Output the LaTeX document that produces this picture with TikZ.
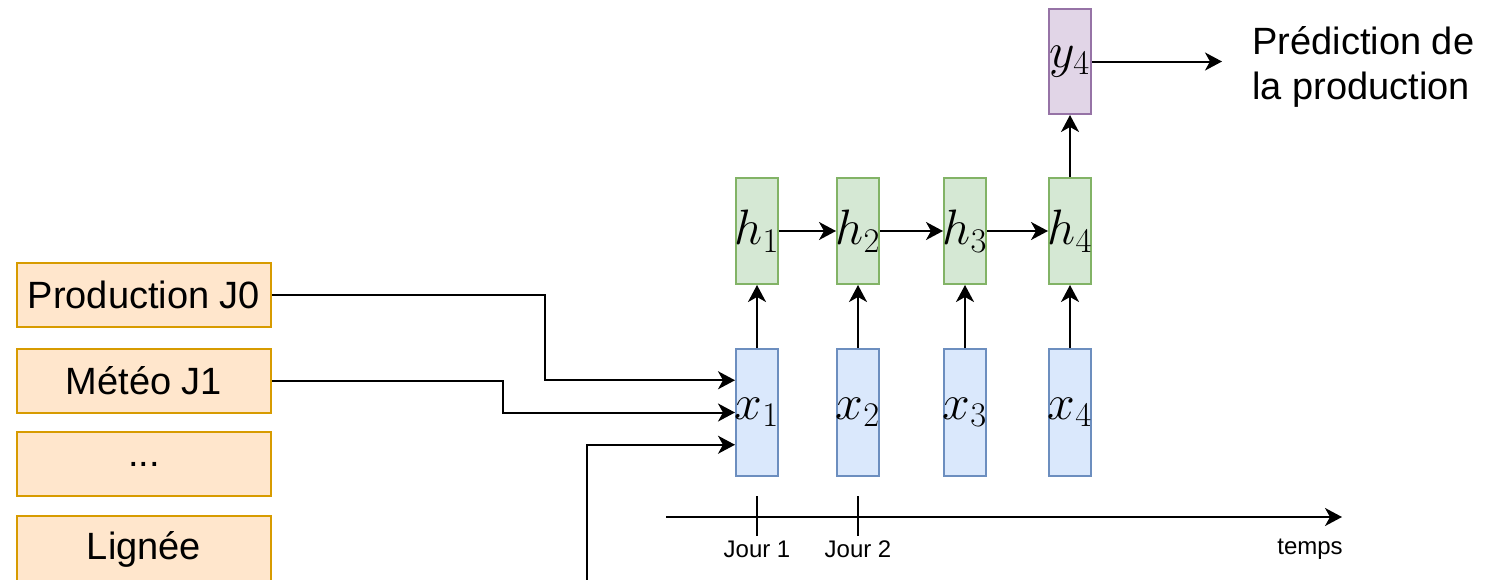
\documentclass[tikz,border=0pt]{standalone}
\usepackage{fontspec}
\setmainfont{Liberation Sans}
\usetikzlibrary{arrows.meta,calc}
\definecolor{orfill}{HTML}{FFE6CC}
\definecolor{ordraw}{HTML}{D79B00}
\definecolor{blfill}{HTML}{DAE8FC}
\definecolor{bldraw}{HTML}{6C8EBF}
\definecolor{grfill}{HTML}{D5E8D4}
\definecolor{grdraw}{HTML}{82B366}
\definecolor{pufill}{HTML}{E1D5E7}
\definecolor{pudraw}{HTML}{9673A6}
\newcommand\celllbl[1]{\makebox[0pt]{#1}}
\begin{document}
\begin{tikzpicture}[x=0.5pt,y=-0.5pt,
  inbox/.style={draw=ordraw, fill=orfill, line width=1pt, minimum width=127pt, minimum height=32pt, inner sep=0pt, font=\fontsize{19}{22}\selectfont},
  cell/.style={line width=1pt, minimum width=21pt, inner sep=0pt, font=\fontsize{23}{27}\selectfont},
  xbox/.style={cell, draw=bldraw, fill=blfill, minimum height=63.5pt},
  hbox/.style={cell, draw=grdraw, fill=grfill, minimum height=53pt},
  ybox/.style={cell, draw=pudraw, fill=pufill, minimum height=52.5pt},
  arr/.style={-{Stealth[length=8.5pt,width=9pt,inset=2.5pt]}, line width=1pt},
  plain/.style={line width=1pt},
  small/.style={font=\fontsize{12}{14}\selectfont, inner sep=0pt}
]
\useasboundingbox (0,0) rectangle (1504,579);

% input boxes
\node[inbox] (p0) at (144,295) {Production J0};
\node[inbox] (m1) at (144,381) {Météo J1};
\node[inbox] (dots) at (144,464) {...};
\node[inbox, minimum height=33pt] (lig) at (144,549) {Lignée};

% x boxes
\node[xbox] (x1) at (757,412.5) {\celllbl{\raisebox{-2pt}{$x_1$}}};
\node[xbox] (x2) at (858,412.5) {\celllbl{\raisebox{-2pt}{$x_2$}}};
\node[xbox] (x3) at (965,412.5) {\celllbl{\raisebox{-2pt}{$x_3$}}};
\node[xbox] (x4) at (1070,412.5) {\celllbl{\raisebox{-2pt}{$x_4$}}};

% h boxes
\node[hbox] (h1) at (757,231) {\celllbl{$h_1$}};
\node[hbox] (h2) at (858,231) {\celllbl{$h_2$}};
\node[hbox] (h3) at (965,231) {\celllbl{$h_3$}};
\node[hbox] (h4) at (1070,231) {\celllbl{$h_4$}};

% output
\node[ybox] (y4) at (1070,61.5) {\celllbl{$y_4$}};
\node[anchor=west, align=left, inner xsep=15pt, inner ysep=0pt, font=\fontsize{19}{22.5}\selectfont] (pred) at (1222,67) {Prédiction de\\la production};

% vertical connections
\foreach \i in {1,2,3,4} \draw[arr] (x\i.north) -- (h\i.south);
\draw[arr] (h1.east) -- (h2.west);
\draw[arr] (h2.east) -- (h3.west);
\draw[arr] (h3.east) -- (h4.west);
\draw[arr] (h4.north) -- (y4.south);
\draw[arr] (y4.east) -- (y4.east -| pred.west);

% inputs into x1
\coordinate (in1) at ($(x1.north west)!0.25!(x1.south west)$);
\coordinate (in3) at ($(x1.north west)!0.75!(x1.south west)$);
\coordinate (v1) at (545,0);
\coordinate (v2) at (503,0);
\coordinate (bot) at (587,585);
\draw[arr] (p0.east) -| (v1 |- in1) -- (in1);
\draw[arr] (m1.east) -| (v2 |- x1.west) -- (x1.west);
\draw[arr] (bot) |- (in3);

% time axis
\coordinate (tstart) at (666,517);
\coordinate (tend) at (1342,517);
\draw[arr] (tstart) -- (tend);
\coordinate (t1a) at (757,496);
\coordinate (t1b) at (757,536);
\coordinate (t2a) at (858,496);
\coordinate (t2b) at (858,536);
\draw[plain] (t1a) -- (t1b);
\draw[plain] (t2a) -- (t2b);
\node[small] (j1) at (757,549) {Jour 1};
\node[small] (j2) at (858,549) {Jour 2};
\node[small] (tp) at (1310,549) {temps};
\end{tikzpicture}
\end{document}
